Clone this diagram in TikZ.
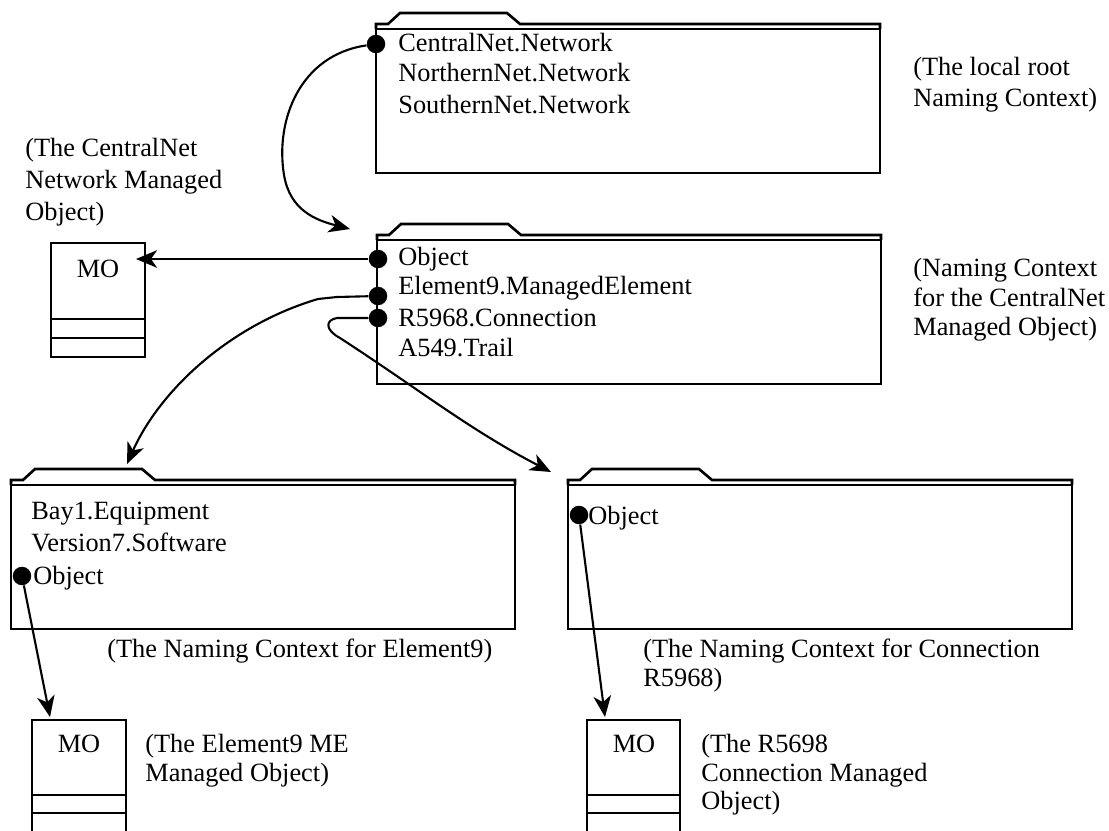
\documentclass[tikz,border=0pt]{standalone}
\usepackage{fontspec}
\setmainfont{Liberation Serif}
\usetikzlibrary{arrows.meta}

\tikzset{
  folderline/.style={line width=1.5pt},
  moline/.style={line width=1.5pt},
  conn/.style={line width=1.2pt, -{Stealth[length=12pt, width=10pt, inset=3.5pt]}},
  dot/.style={circle, fill=black, inner sep=0pt, minimum size=0.37cm},
  entry/.style={anchor=base west, inner sep=0pt, font=\fontsize{15}{18}\selectfont},
  moname/.style={anchor=base, inner sep=0pt, font=\fontsize{15}{18}\selectfont},
}

% folder with a tab: left edge, top line
\newcommand{\namingfolder}[2]{%
  \draw[folderline] (#1,#2+5) -- (#1,#2) -- (#1+12,#2) -- (#1+24,#2-11) -- (#1+131,#2-11)
    -- (#1+144,#2) -- (#1+504,#2) -- (#1+504,#2+5);
  \draw[folderline] (#1,#2+5) rectangle (#1+504,#2+149);
}

\begin{document}
\begin{tikzpicture}[x=0.02cm, y=-0.02cm]
\useasboundingbox (0,0) rectangle (1109,831);

% Naming context folders
\namingfolder{376}{24}
\namingfolder{377}{235}
\namingfolder{11}{480}
\namingfolder{568}{480}

% root naming context
\node[dot] (rootdot) at (376,44) {};
\node[entry] (rootc) at (398,52) {CentralNet.Network};
\node[entry] (rootn) at (398,82) {NorthernNet.Network};
\node[entry] (roots) at (398,114) {SouthernNet.Network};
\node[entry] (rootlbl1) at (913,76) {(The local root};
\node[entry] (rootlbl2) at (913,107) {Naming Context)};

% CentralNet naming context
\node[dot] (cnobj) at (378,259) {};
\node[dot] (cnelem) at (378,296) {};
\node[dot] (cnconn) at (378,318) {};
\node[entry] (cn1) at (398,266) {Object};
\node[entry] (cn2) at (398,295) {Element9.ManagedElement};
\node[entry] (cn3) at (398,326) {R5968.Connection};
\node[entry] (cn4) at (398,357) {A549.Trail};
\node[entry] (cnlbl1) at (913,276) {(Naming Context};
\node[entry] (cnlbl2) at (913,306) {for the CentralNet};
\node[entry] (cnlbl3) at (913,336) {Managed Object)};

% CentralNet managed object
\draw[moline] (51,243) rectangle (145,357);
\draw[moline] (51,319) -- (145,319) (51,338) -- (145,338);
\node[moname] (mocn) at (98,277) {MO};
\node[entry] (mocnlbl1) at (25,157) {(The CentralNet};
\node[entry] (mocnlbl2) at (25,189) {Network Managed};
\node[entry] (mocnlbl3) at (25,221) {Object)};

% Element9 naming context
\node[dot] (elobj) at (22,576) {};
\node[entry] (el1) at (31,519) {Bay1.Equipment};
\node[entry] (el2) at (31,551) {Version7.Software};
\node[entry] (el3) at (33,584) {Object};
\node[entry] (ellbl) at (107,657) {(The Naming Context for Element9)};

% R5968 naming context
\node[dot] (coobj) at (579,515) {};
\node[entry] (co1) at (588,524) {Object};
\node[entry] (colbl1) at (643,657) {(The Naming Context for Connection};
\node[entry] (colbl2) at (643,686) {R5968)};

% Element9 managed object
\draw[moline] (32,850) -- (32,720) -- (126,720) -- (126,850);
\draw[moline] (32,795) -- (126,795) (32,813) -- (126,813);
\node[moname] (moel) at (79,752) {MO};
\node[entry] (moellbl1) at (145,752) {(The Element9 ME};
\node[entry] (moellbl2) at (145,781) {Managed Object)};

% R5968 managed object
\draw[moline] (587,850) -- (587,720) -- (680,720) -- (680,850);
\draw[moline] (587,795) -- (680,795) (587,813) -- (680,813);
\node[moname] (moco) at (634,752) {MO};
\node[entry] (mocolbl1) at (701,752) {(The R5698};
\node[entry] (mocolbl2) at (701,781) {Connection Managed};
\node[entry] (mocolbl3) at (701,809) {Object)};

% arrow ends
\coordinate (cntab) at (350,229);
\coordinate (mocnin) at (136,259);
\coordinate (eltab) at (127,464);
\coordinate (cotab) at (551,472);
\coordinate (moelin) at (50,717);
\coordinate (mocoin) at (605,717);

% connectors
\draw[conn] (rootdot) .. controls (300,55) and (275,120) .. (284,175)
  .. controls (290,210) and (315,220) .. (cntab);
\draw[conn] (cnobj) -- (mocnin);
\draw[conn] (cnelem) -- (337,297) -- (318,299) .. controls (230,325) and (160,390) .. (eltab);
\draw[conn] (cnconn) -- (337,318) .. controls (325,320) and (325,330) .. (340,338)
  .. controls (420,390) and (470,430) .. (cotab);
\draw[conn] (elobj) -- (moelin);
\draw[conn] (coobj) -- (mocoin);
\end{tikzpicture}
\end{document}
